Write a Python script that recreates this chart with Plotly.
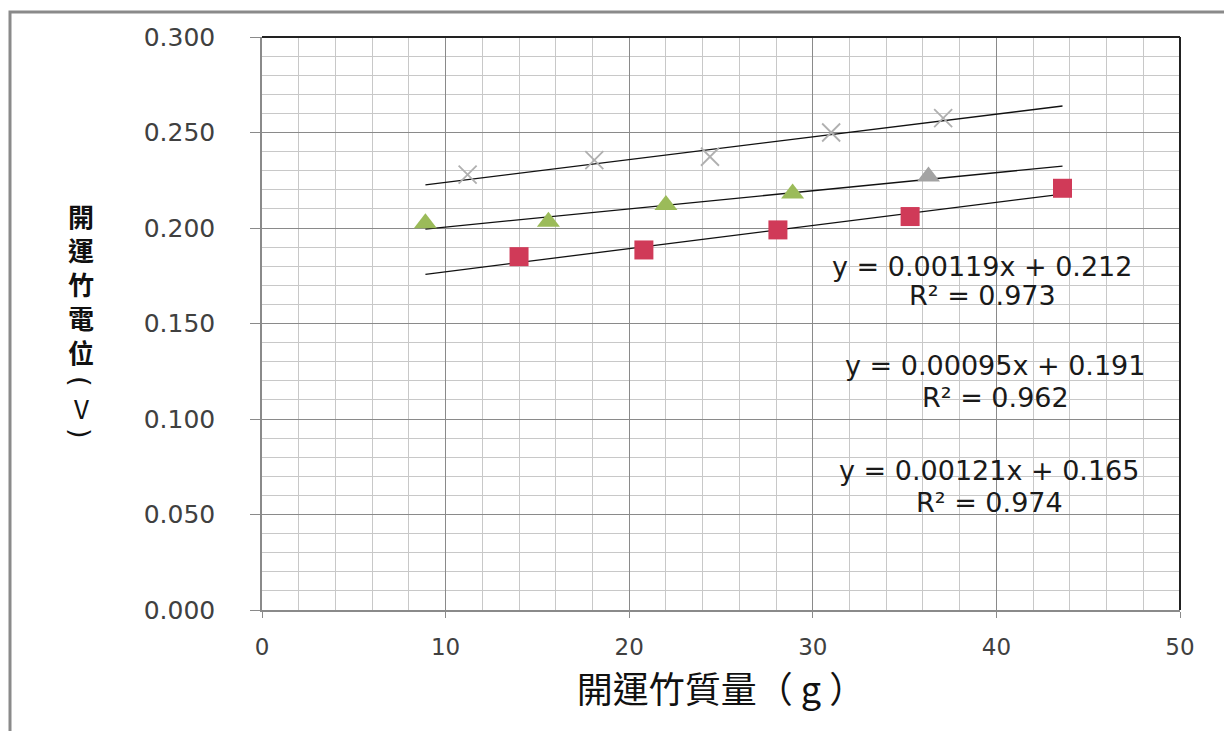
import plotly.graph_objects as go

# ---- data ----
mass_cross = [11.2, 18.1, 24.4, 31.0, 37.1]
volt_cross = [0.228, 0.2355, 0.2373, 0.250, 0.2575]

mass_tri = [8.9, 15.6, 22.0, 28.9, 36.3]
volt_tri = [0.2025, 0.2033, 0.212, 0.218, 0.227]

mass_sq = [14.0, 20.8, 28.1, 35.3, 43.6]
volt_sq = [0.185, 0.1885, 0.199, 0.206, 0.2208]

trend_x = [8.9, 43.6]
slopes = [0.00119, 0.00095, 0.00121]
intercepts = [0.212, 0.191, 0.165]
r2_values = [0.973, 0.962, 0.974]

x_ticks = [0, 10, 20, 30, 40, 50]
y_ticks = [0.0, 0.05, 0.10, 0.15, 0.20, 0.25, 0.30]

x_title = "開運竹質量（ g ）"
y_title_chars = ["開", "運", "竹", "電", "位", "(", "V", ")"]

# ---- figure ----
fig = go.Figure()

# trendlines
for m, b in zip(slopes, intercepts):
    fig.add_trace(go.Scatter(
        x=trend_x, y=[m * xv + b for xv in trend_x],
        mode="lines", line=dict(color="#111111", width=1.3),
        showlegend=False, hoverinfo="skip"))

fig.add_trace(go.Scatter(
    x=mass_cross, y=volt_cross, mode="markers",
    marker=dict(symbol="x-thin", size=18,
                line=dict(color="#b0b0b0", width=1.8)),
    showlegend=False))

tri_colors = ["#9BBB59"] * (len(mass_tri) - 1) + ["#A3A3A3"]
fig.add_trace(go.Scatter(
    x=mass_tri, y=volt_tri, mode="markers",
    marker=dict(symbol="triangle-up", size=20, color=tri_colors,
                line=dict(width=0)),
    showlegend=False))

fig.add_trace(go.Scatter(
    x=mass_sq, y=volt_sq, mode="markers",
    marker=dict(symbol="square", size=19, color="#D03A58",
                line=dict(width=0)),
    showlegend=False))

L, R, T, B = 262, 44, 37, 121
PW, PH = 1224 - L - R, 731 - T - B


def px2paper(px, py):
    return (px - L) / PW, (731 - B - py) / PH


# equation annotations
eq_pos = [(982, 266, 295), (995, 365, 397), (989, 470, 502)]
for (cx, y1, y2), m, b, r2 in zip(eq_pos, slopes, intercepts, r2_values):
    ax1, ay1 = px2paper(cx, y1)
    ax2, ay2 = px2paper(cx, y2)
    fig.add_annotation(x=ax1, y=ay1, xref="paper", yref="paper",
                       text=f"y = {m:.5f}x + {b:.3f}", showarrow=False,
                       xanchor="center", yanchor="middle",
                       font=dict(family="DejaVu Sans", size=27, color="#1a1a1a"))
    fig.add_annotation(x=ax2, y=ay2, xref="paper", yref="paper",
                       text=f"R² = {r2:.3f}", showarrow=False,
                       xanchor="center", yanchor="middle",
                       font=dict(family="DejaVu Sans", size=27, color="#1a1a1a"))

# vertical y-axis title: one character per line, brackets turned 90°
y_char_px = [215, 249, 283, 317, 351, 381, 407, 433]
for ch, py in zip(y_title_chars, y_char_px):
    ax, ay = px2paper(81, py)
    if ch in ("(", ")"):
        fig.add_annotation(x=ax, y=ay, xref="paper", yref="paper",
                           text=ch, showarrow=False, textangle=90,
                           xanchor="center", yanchor="middle",
                           font=dict(family="DejaVu Sans", size=27,
                                     color="#111111"))
    else:
        fig.add_annotation(x=ax, y=ay, xref="paper", yref="paper",
                           text=f"<b>{ch}</b>" if ch != "V" else ch,
                           showarrow=False,
                           xanchor="center", yanchor="middle",
                           font=dict(family="Noto Sans CJK TC", size=26,
                                     color="#111111"))

# outer frame (grey border) and plot top/right dark lines
bx0, by1 = px2paper(10, 12)
fig.add_shape(type="rect", xref="paper", yref="paper",
              x0=bx0, x1=1.2, y0=-0.4, y1=by1,
              line=dict(color="#8a8a8a", width=3), layer="above")
fig.add_shape(type="line", xref="paper", yref="paper",
              x0=0, x1=1, y0=1, y1=1, line=dict(color="#222222", width=2))
fig.add_shape(type="line", xref="paper", yref="paper",
              x0=1, x1=1, y0=0, y1=1, line=dict(color="#222222", width=2))

fig.update_xaxes(
    range=[0, 50], tickvals=x_ticks, ticktext=[str(v) for v in x_ticks],
    showgrid=True, gridcolor="#8a8a8a", gridwidth=1.3,
    minor=dict(dtick=2, showgrid=True, gridcolor="#c8c8c8", gridwidth=1),
    showline=True, linecolor="#8a8a8a", linewidth=1.5,
    ticks="outside", ticklen=6, tickcolor="#8a8a8a",
    tickfont=dict(family="DejaVu Sans", size=23, color="#404040"),
    ticklabelstandoff=10,
    zeroline=False,
    title=dict(text=x_title, standoff=18,
               font=dict(family="Noto Sans CJK TC", size=36, color="#111111")),
)
fig.update_yaxes(
    range=[0, 0.3], tickvals=y_ticks, tickformat=".3f",
    showgrid=True, gridcolor="#8a8a8a", gridwidth=1.3,
    minor=dict(dtick=0.01, showgrid=True, gridcolor="#c8c8c8", gridwidth=1),
    showline=True, linecolor="#8a8a8a", linewidth=1.5,
    ticks="outside", ticklen=10, tickcolor="#8a8a8a",
    tickfont=dict(family="DejaVu Sans", size=25, color="#404040"),
    ticklabelstandoff=30,
    zeroline=False,
)

fig.update_layout(
    width=1224, height=731,
    margin=dict(l=L, r=R, t=T, b=B, pad=0),
    plot_bgcolor="white", paper_bgcolor="white",
    showlegend=False,
)

fig.write_html("out.html")
